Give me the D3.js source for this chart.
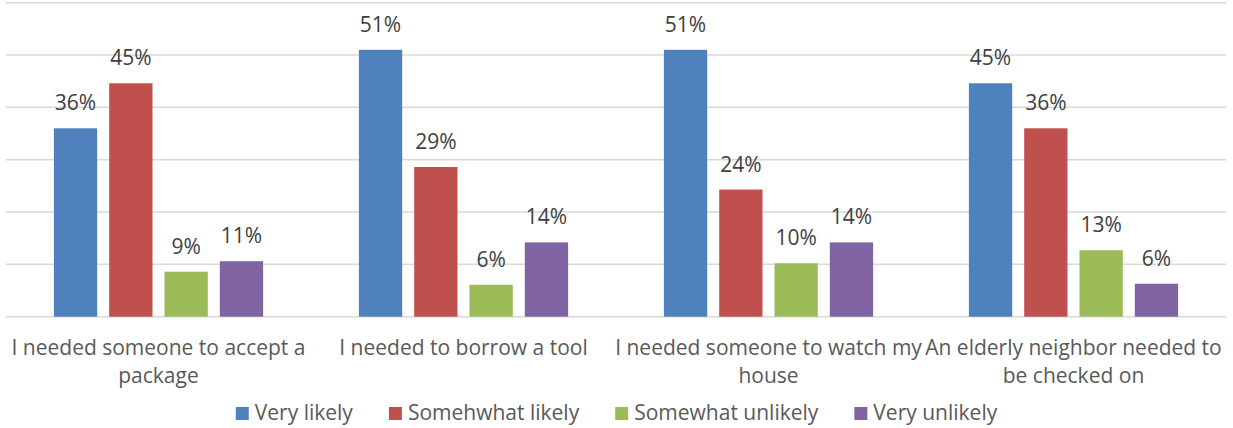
<!DOCTYPE html>
<html>
<head>
<meta charset="utf-8">
<script src="https://cdn.jsdelivr.net/npm/d3@7"></script>
<style>
  html, body { margin: 0; padding: 0; background: #fff; }
  svg { display: block; }
  text { font-family: "Open Sans", "Noto Sans", sans-serif; }
</style>
</head>
<body>
<script>
const categories = [
  "I needed someone to accept a\npackage",
  "I needed to borrow a tool",
  "I needed someone to watch my\nhouse",
  "An elderly neighbor needed to\nbe checked on"
];
const seriesNames = ["Very likely", "Somehwhat likely", "Somewhat unlikely", "Very unlikely"];
const seriesColors = ["#4F81BD", "#C0504D", "#9BBB59", "#8064A2"];
const veryLikely       = [36.0, 51.0, 51.0, 44.6];
const somewhatLikely   = [44.6, 28.6, 24.3, 36.0];
const somewhatUnlikely = [8.6, 6.1, 10.2, 12.7];
const veryUnlikely     = [10.6, 14.2, 14.2, 6.3];
const yTicks = [0, 10, 20, 30, 40, 50, 60];

const seriesValues = [veryLikely, somewhatLikely, somewhatUnlikely, veryUnlikely];

const W = 1233, H = 428;
const plot = { left: 6, right: 1226, top: 2.7, bottom: 316.7 };
const FS = 21;

const svg = d3.select("body").append("svg").attr("width", W).attr("height", H);

const x0 = d3.scaleBand().domain(categories).range([plot.left, plot.right]).paddingInner(0).paddingOuter(0);
const x1 = d3.scaleBand().domain(seriesNames).range([0, x0.bandwidth()]).paddingInner(0.217).paddingOuter(0.866);
const y = d3.scaleLinear().domain([0, 60]).range([plot.bottom, plot.top]);

// gridlines
svg.append("g").selectAll("line").data(yTicks).join("line")
  .attr("x1", plot.left).attr("x2", plot.right)
  .attr("y1", d => y(d)).attr("y2", d => y(d))
  .attr("stroke", "#d9d9d9").attr("stroke-width", 1.5);

// bars
const groups = svg.append("g").selectAll("g").data(categories).join("g")
  .attr("transform", d => `translate(${x0(d)},0)`);

const fmt = d3.format(".0f");
groups.each(function(cat, ci) {
  const g = d3.select(this);
  const rows = seriesNames.map((s, si) => ({ s, si, v: seriesValues[si][ci] }));
  g.selectAll("rect").data(rows).join("rect")
    .attr("x", d => x1(d.s)).attr("width", x1.bandwidth())
    .attr("y", d => y(d.v)).attr("height", d => y(0) - y(d.v))
    .attr("fill", d => seriesColors[d.si]);
  g.selectAll("text").data(rows).join("text")
    .attr("x", d => x1(d.s) + x1.bandwidth() / 2)
    .attr("y", d => y(d.v) - 18)
    .attr("text-anchor", "middle")
    .attr("font-size", FS)
    .attr("fill", "#404040")
    .text(d => fmt(d.v) + "%");
});

// category labels
const catG = svg.append("g");
categories.forEach(c => {
  const lines = c.split("\n");
  const t = catG.append("text")
    .attr("x", x0(c) + x0.bandwidth() / 2)
    .attr("y", 355)
    .attr("text-anchor", "middle")
    .attr("font-size", FS)
    .attr("fill", "#595959");
  lines.forEach((ln, i) => {
    t.append("tspan").attr("x", x0(c) + x0.bandwidth() / 2).attr("dy", i === 0 ? 0 : 28).text(ln);
  });
});

// legend
const leg = svg.append("g");
const items = leg.selectAll("g").data(seriesNames).join("g");
items.append("rect").attr("width", 13).attr("height", 13).attr("y", 407)
  .attr("fill", (d, i) => seriesColors[i]);
items.append("text").attr("x", 19).attr("y", 420)
  .attr("font-size", FS).attr("fill", "#595959").text(d => d);
let cx = 0;
const offs = [];
items.each(function(d, i) {
  offs.push(cx);
  const w = d3.select(this).select("text").node().getComputedTextLength();
  cx += 19 + w + (i < seriesNames.length - 1 ? 36 : 0);
});
const start = (W - cx) / 2;
items.attr("transform", (d, i) => `translate(${start + offs[i]},0)`);
</script>
</body>
</html>
